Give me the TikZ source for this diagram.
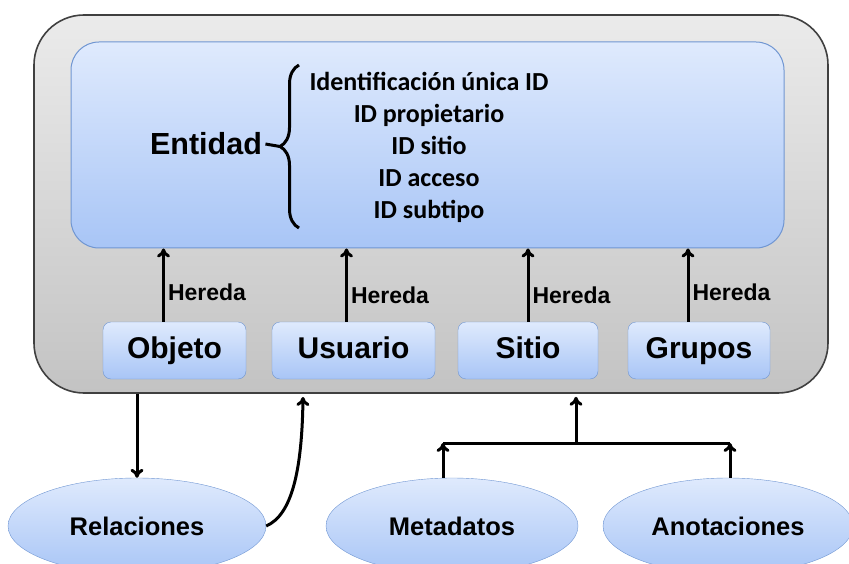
\documentclass[tikz,border=0pt]{standalone}
\usepackage{fontspec}
\setmainfont{Liberation Sans}
\newfontfamily\idfont{Carlito}
\usetikzlibrary{arrows.meta,shapes.geometric,decorations.pathreplacing}
\definecolor{azulclaro}{RGB}{223,234,253}
\definecolor{azul}{RGB}{168,197,246}
\definecolor{borde}{RGB}{112,150,210}
\definecolor{grisclaro}{RGB}{235,235,235}
\definecolor{gris}{RGB}{195,195,195}

\begin{document}
\begin{tikzpicture}[x=1pt,y=-1pt,>={To[length=9pt,width=13pt]},
    caja/.style={draw=borde,rounded corners=8pt,top color=azulclaro,bottom color=azul,minimum height=57pt,text height=22pt,text depth=6pt,font=\fontsize{30}{34}\selectfont\bfseries},
    elipse/.style={ellipse,draw=borde,top color=azulclaro,bottom color=azul,minimum height=96pt,font=\fontsize{25.5}{30}\selectfont\bfseries},
    flecha/.style={->,line width=3pt},
    hereda/.style={right,inner sep=3pt,font=\fontsize{23}{28}\selectfont\bfseries}]
                \useasboundingbox (0,0) rectangle (849,564);
                \clip (0,0) rectangle (849,564);
                \node[draw=black!75,line width=1.6pt,rounded corners=50pt,top color=grisclaro,bottom color=gris,minimum width=794pt,minimum height=378pt] (marco) at (431,204) {};
                \node[draw=borde,line width=1pt,rounded corners=28pt,top color=azulclaro,bottom color=azul,minimum width=713pt,minimum height=206pt] (entidadbox) at (427.5,145) {};
                \node[font=\fontsize{30.5}{34}\selectfont\bfseries] (entidad) at (206,144) {Entidad};
                \node[align=center,font=\idfont\fontsize{26}{32}\selectfont\bfseries] (ids) at (429,147) {Identificación única ID\\ID propietario\\ID sitio\\ID acceso\\ID subtipo};
                \coordinate (llave1) at (299,228);
                \coordinate (llave2) at (299,65);
                \coordinate (punta) at (280,146.5);
                \draw[line width=3pt,decorate,decoration={brace,amplitude=19pt}] (llave1) -- (llave2);
                \draw[line width=3pt] (entidad.east) -- (punta);
                \node[caja,minimum width=143pt] (objeto) at (174.5,350.5) {Objeto};
                \node[caja,minimum width=163pt] (usuario) at (353.5,350.5) {Usuario};
                \node[caja,minimum width=140pt] (sitio) at (528,350.5) {Sitio};
                \node[caja,minimum width=142pt] (grupos) at (699,350.5) {Grupos};
                \draw[flecha] ([xshift=-11pt]objeto.north) -- ([xshift=-11pt]objeto.north |- entidadbox.south) node[hereda,pos=0.4] {Hereda};
                \draw[flecha] ([xshift=-7pt]usuario.north) -- ([xshift=-7pt]usuario.north |- entidadbox.south) node[hereda,pos=0.36] {Hereda};
                \draw[flecha] (sitio.north) -- (sitio.north |- entidadbox.south) node[hereda,pos=0.36] {Hereda};
                \draw[flecha] ([xshift=-11pt]grupos.north) -- ([xshift=-11pt]grupos.north |- entidadbox.south) node[hereda,pos=0.4] {Hereda};
                \node[elipse,minimum width=258pt] (relaciones) at (137,526) {Relaciones};
                \node[elipse,minimum width=252pt] (metadatos) at (452,526) {Metadatos};
                \node[elipse,minimum width=250pt] (anotaciones) at (728,526) {Anotaciones};
                \coordinate (retorno) at (303,397);
                \coordinate (bus) at (576,443);
                \draw[flecha] (marco.south -| relaciones) -- (relaciones.north);
                \draw[flecha] (relaciones.east) .. controls (292,515) and (302,470) .. (retorno);
                \draw[flecha] ([xshift=-9pt]metadatos.north) -- ([xshift=-9pt]metadatos.north |- bus);
                \draw[flecha] ([xshift=2pt]anotaciones.north) -- ([xshift=2pt]anotaciones.north |- bus);
                \draw[line width=3pt] ([xshift=-9pt]metadatos.north |- bus) -- ([xshift=2pt]anotaciones.north |- bus);
                \draw[flecha] (bus) -- ([yshift=-3pt]bus |- marco.south);
            \end{tikzpicture}
\end{document}
